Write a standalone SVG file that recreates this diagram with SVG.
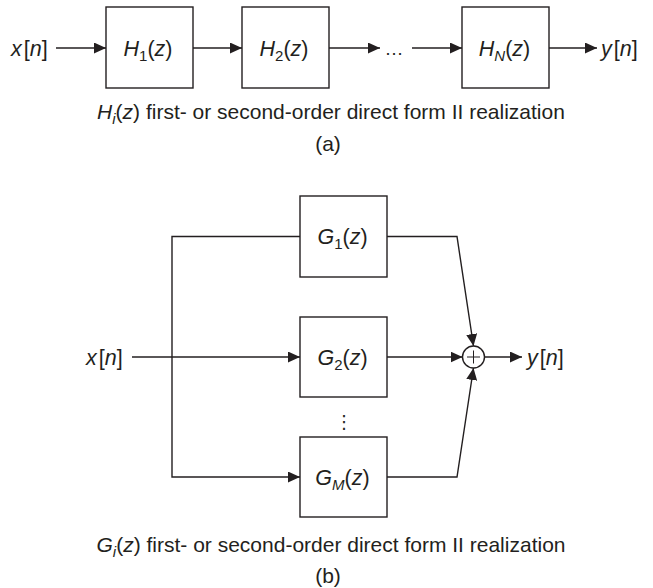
<svg xmlns="http://www.w3.org/2000/svg" width="653" height="588" viewBox="0 0 653 588">
<defs>
<marker id="ah" markerUnits="userSpaceOnUse" markerWidth="12" markerHeight="11" refX="12" refY="5.5" orient="auto">
<path d="M0,0 L12,5.5 L0,11 z" fill="#231f20"/>
</marker>
<style>
.box{fill:#fff;stroke:#231f20;stroke-width:1.4}
.ln{fill:none;stroke:#231f20;stroke-width:1.4}
.ar{marker-end:url(#ah)}
text{font-family:"Liberation Sans",Arial,sans-serif;font-size:21.5px;fill:#231f20}
.cap{font-size:21px}
.it{font-style:italic}
.c{text-anchor:middle}
.sub{font-size:15px}
</style>
</defs>
<rect width="653" height="588" fill="#fff"/>

<g id="connectors">
<line class="ln ar" x1="56" y1="48" x2="106" y2="48"/>
<line class="ln ar" x1="193" y1="48" x2="242" y2="48"/>
<line class="ln ar" x1="329" y1="48" x2="380" y2="48"/>
<line class="ln ar" x1="412" y1="48" x2="462" y2="48"/>
<line class="ln ar" x1="549" y1="48" x2="597" y2="48"/>

<line class="ln ar" x1="132" y1="357" x2="300" y2="357"/>
<polyline class="ln ar" points="300,236.5 172,236.5 172,477 300,477"/>
<polyline class="ln ar" points="387,236.5 457,236.5 473.5,346"/>
<line class="ln ar" x1="387" y1="357" x2="462.5" y2="357"/>
<polyline class="ln ar" points="387,477 457,477 473.5,368"/>
<line class="ln ar" x1="484.5" y1="357" x2="522" y2="357"/>
</g>

<g id="x_in_a"><text x="11" y="55.5"><tspan class="it">x</tspan><tspan dx="2">[</tspan><tspan class="it">n</tspan>]</text></g>
<g id="H1"><rect class="box" x="106" y="7" width="87" height="81"/><text class="c" x="148" y="55.5"><tspan class="it">H</tspan><tspan class="sub" dy="5">1</tspan><tspan dy="-5">(</tspan><tspan class="it">z</tspan>)</text></g>
<g id="H2"><rect class="box" x="242" y="7" width="87" height="81"/><text class="c" x="284" y="55.5"><tspan class="it">H</tspan><tspan class="sub" dy="5">2</tspan><tspan dy="-5">(</tspan><tspan class="it">z</tspan>)</text></g>
<g id="dots_a"><text class="c" x="394" y="55" style="font-size:19px">…</text></g>
<g id="HN"><rect class="box" x="462" y="7" width="87" height="81"/><text class="c" x="504.5" y="55.5"><tspan class="it">H</tspan><tspan class="sub it" dy="5">N</tspan><tspan dy="-5">(</tspan><tspan class="it">z</tspan>)</text></g>
<g id="y_out_a"><text x="601" y="55.5"><tspan class="it">y</tspan><tspan dx="2">[</tspan><tspan class="it">n</tspan>]</text></g>
<g id="caption_a"><text class="c cap" x="331" y="119"><tspan class="it">H</tspan><tspan class="sub it" dy="5">i</tspan><tspan dy="-5">(</tspan><tspan class="it">z</tspan>) first- or second-order direct form II realization</text>
<text class="c cap" x="328" y="151">(a)</text></g>

<g id="x_in_b"><text x="86" y="364.5"><tspan class="it">x</tspan><tspan dx="2">[</tspan><tspan class="it">n</tspan>]</text></g>
<g id="G1"><rect class="box" x="300" y="196" width="87" height="81"/><text class="c" x="342.5" y="244"><tspan class="it">G</tspan><tspan class="sub" dy="5">1</tspan><tspan dy="-5">(</tspan><tspan class="it">z</tspan>)</text></g>
<g id="G2"><rect class="box" x="300" y="317" width="87" height="80"/><text class="c" x="342.5" y="364.5"><tspan class="it">G</tspan><tspan class="sub" dy="5">2</tspan><tspan dy="-5">(</tspan><tspan class="it">z</tspan>)</text></g>
<g id="dots_b"><text class="c" x="344" y="428" style="font-family:'DejaVu Sans',sans-serif;font-size:18px">⋮</text></g>
<g id="GM"><rect class="box" x="300" y="437" width="87" height="80"/><text class="c" x="342.5" y="484.5"><tspan class="it">G</tspan><tspan class="sub it" dy="5">M</tspan><tspan dy="-5">(</tspan><tspan class="it">z</tspan>)</text></g>
<g id="sum"><circle class="ln" cx="473.5" cy="357" r="11"/><line class="ln" x1="467" y1="357" x2="480" y2="357" style="stroke-width:1"/><line class="ln" x1="473.5" y1="350.5" x2="473.5" y2="363.5" style="stroke-width:1"/></g>
<g id="y_out_b"><text x="527" y="364.5"><tspan class="it">y</tspan><tspan dx="2">[</tspan><tspan class="it">n</tspan>]</text></g>
<g id="caption_b"><text class="c cap" x="331" y="552"><tspan class="it">G</tspan><tspan class="sub it" dy="5">i</tspan><tspan dy="-5">(</tspan><tspan class="it">z</tspan>) first- or second-order direct form II realization</text>
<text class="c cap" x="328" y="583">(b)</text></g>
</svg>
